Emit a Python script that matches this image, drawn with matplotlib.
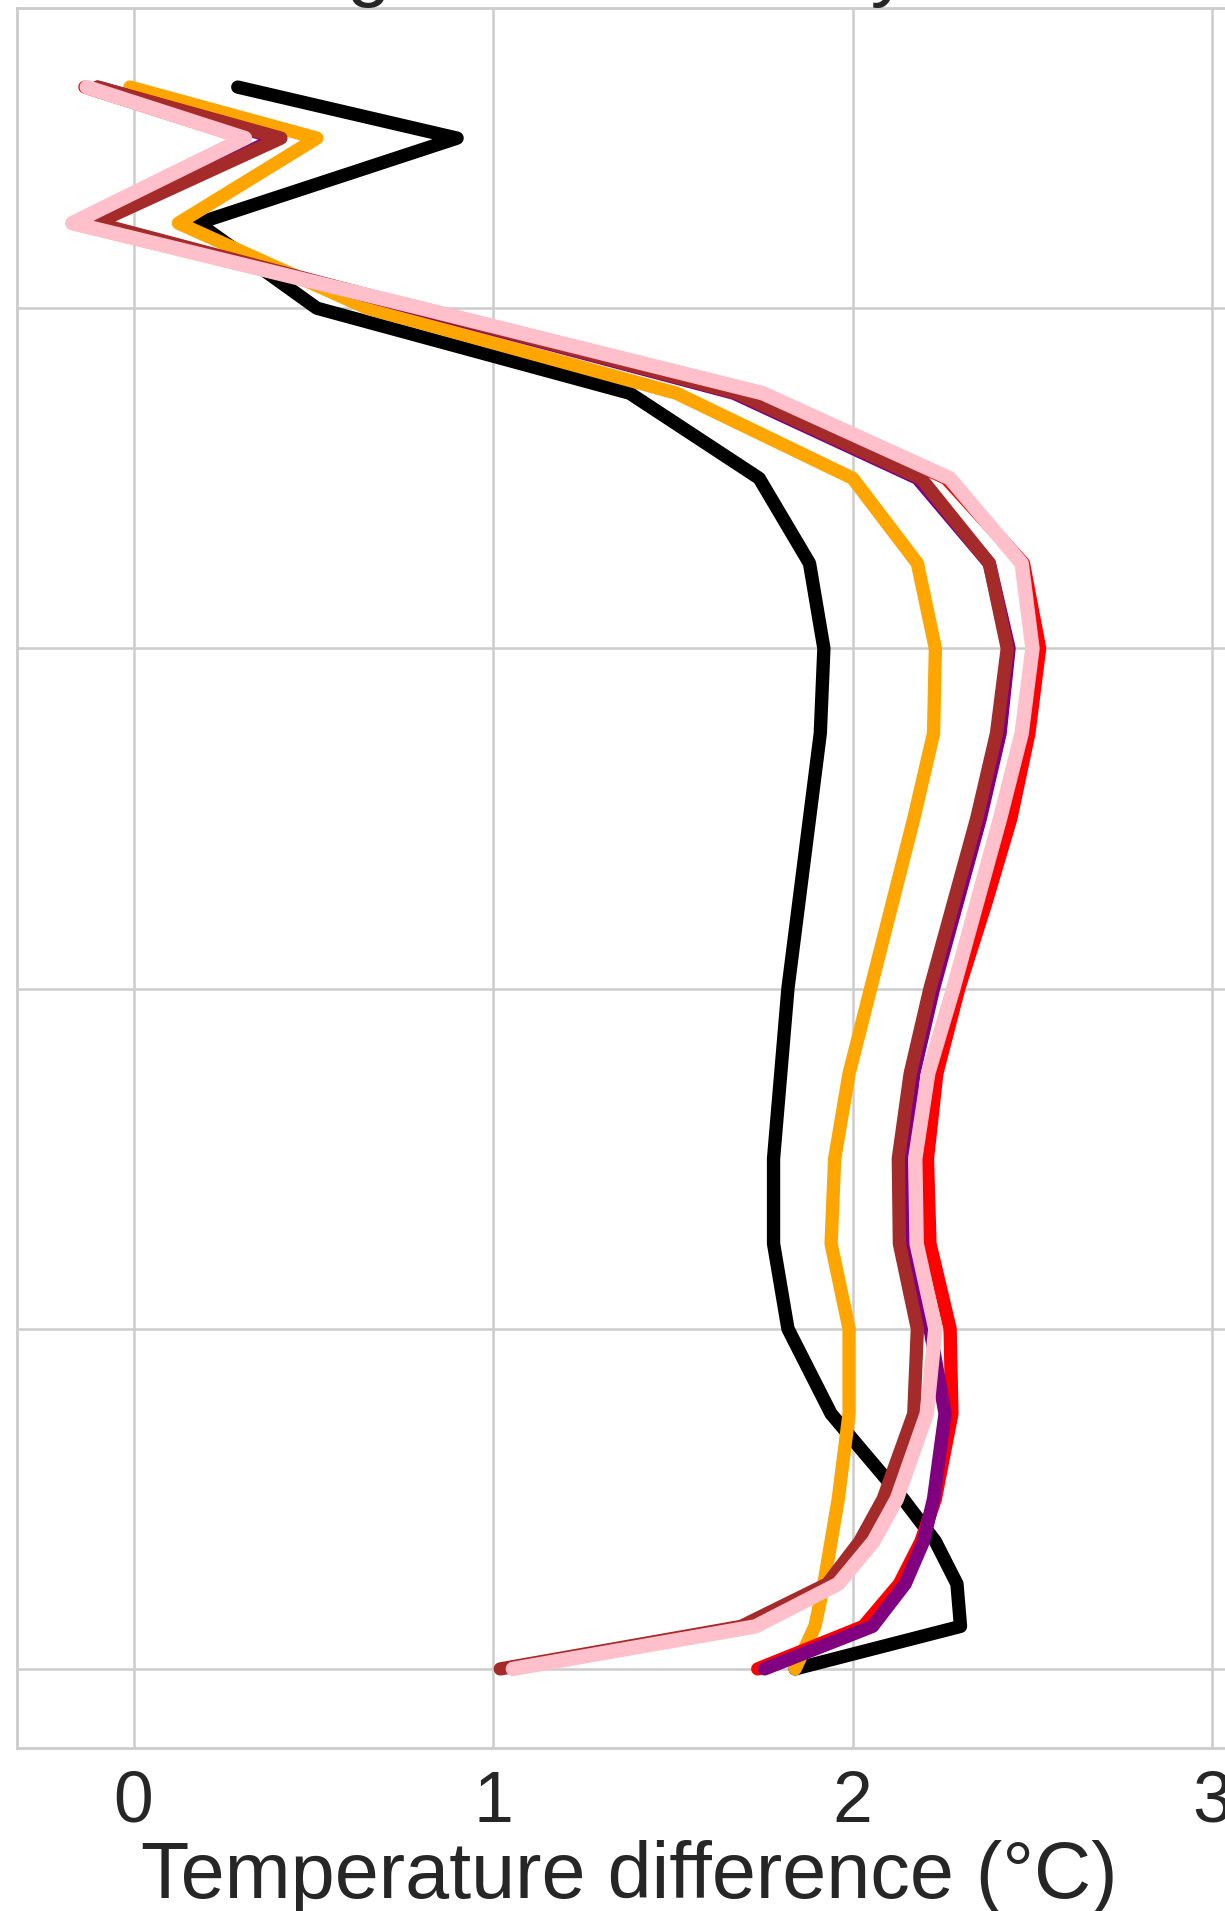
"""Vertical profile of temperature difference for six runs (pressure levels, hPa)."""
import matplotlib
matplotlib.use("Agg")
import matplotlib.pyplot as plt

LEVELS = [70, 100, 150, 200, 250, 300, 350, 400, 450, 500, 550,
          600, 650, 700, 750, 800, 850, 900, 925, 950, 975, 1000]

BLACK = [0.29, 0.90, 0.18, 0.51, 1.38, 1.74, 1.88, 1.92, 1.91, 1.88, 1.85,
         1.82, 1.80, 1.78, 1.78, 1.82, 1.94, 2.14, 2.23, 2.29, 2.30, 1.84]
ORANGE = [-0.01, 0.51, 0.125, 0.65, 1.51, 2.00, 2.18, 2.23, 2.225, 2.17, 2.11,
          2.05, 1.99, 1.95, 1.94, 1.99, 1.99, 1.96, 1.94, 1.92, 1.895, 1.84]
RED = [-0.135, 0.31, -0.17, 0.80, 1.75, 2.26, 2.475, 2.52, 2.49, 2.44, 2.37,
       2.295, 2.234, 2.208, 2.215, 2.271, 2.276, 2.23, 2.19, 2.13, 2.03, 1.736]
PURPLE = [-0.10, 0.40, -0.11, 0.78, 1.67, 2.18, 2.38, 2.435, 2.41, 2.355, 2.29,
          2.225, 2.17, 2.145, 2.15, 2.215, 2.257, 2.225, 2.197, 2.146, 2.055, 1.755]
BROWN = [-0.10, 0.41, -0.105, 0.79, 1.68, 2.19, 2.38, 2.43, 2.40, 2.345, 2.28,
         2.215, 2.16, 2.127, 2.13, 2.18, 2.17, 2.085, 2.02, 1.93, 1.69, 1.02]
PINK = [-0.13, 0.31, -0.17, 0.80, 1.75, 2.27, 2.47, 2.50, 2.47, 2.41, 2.345,
        2.28, 2.21, 2.174, 2.178, 2.23, 2.206, 2.123, 2.058, 1.96, 1.73, 1.055]

# (colour, values, line width in pt) - pink is drawn a touch wider, on top
SERIES = [("black", BLACK, 9.6), ("orange", ORANGE, 9.6), ("red", RED, 9.6),
          ("purple", PURPLE, 9.6), ("brown", BROWN, 9.6), ("pink", PINK, 10.4)]

TEXT = "#262626"
GRID = "#cccccc"

plt.rcParams["font.family"] = ["Liberation Sans", "DejaVu Sans"]

W, H = 1225, 1911                                   # output size in pixels
fig = plt.figure(figsize=(W / 100, H / 100), dpi=100)
# the panel runs a little past the right edge, as in the cropped original
ax = fig.add_axes([17 / W, 1 - 1748 / H, 1224 / W, (1748 - 8) / H])

for color, vals, lw in SERIES:
    ax.plot(vals, LEVELS, color=color, lw=lw,
            solid_capstyle="round", solid_joinstyle="round")

ax.set_xlim(-0.324, 3.08)
ax.set_ylim(1046.5, 23.5)
ax.set_xticks([0, 1, 2, 3])
ax.set_yticks([200, 400, 600, 800, 1000])
ax.tick_params(axis="y", left=False, labelleft=False, length=0)
ax.tick_params(axis="x", bottom=False, length=0, pad=15.8,
               labelsize=51.5, labelcolor=TEXT)
ax.grid(color=GRID, lw=1.8)
ax.set_axisbelow(True)
for s in ax.spines.values():
    s.set_color(GRID)
    s.set_linewidth(2)

ax.set_xlabel("Temperature difference (°C)", fontsize=57, color=TEXT, labelpad=2)
# title sits almost entirely above the crop; only its descenders show
ax.set_title("Warming in each run by 2100", fontsize=57, color=TEXT, pad=12, x=0.47)

fig.savefig("out.png", dpi=100)
